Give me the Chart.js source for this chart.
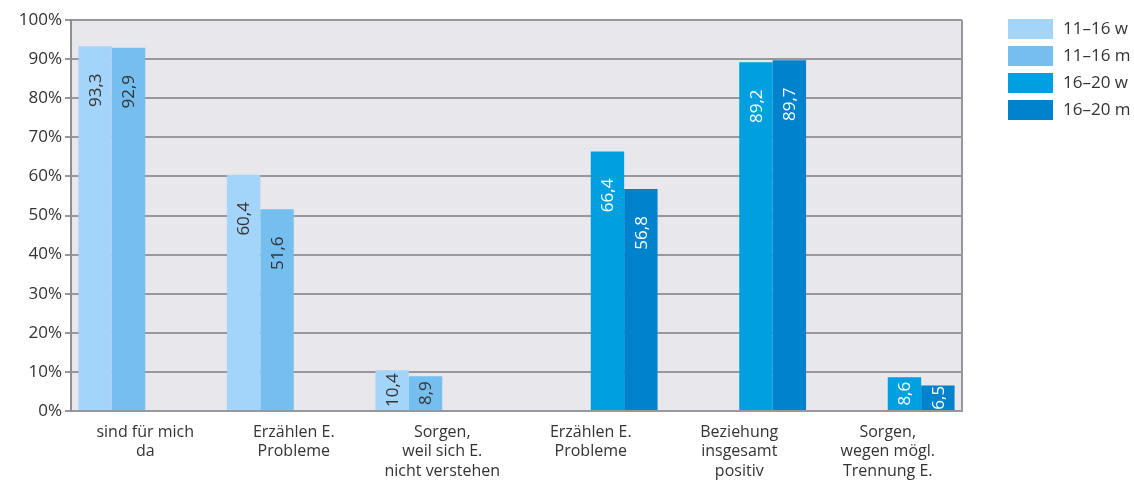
<!DOCTYPE html>
<html><head><meta charset="utf-8">
<script src="https://cdn.jsdelivr.net/npm/chart.js@4/dist/chart.umd.min.js"></script>
<style>html,body{margin:0;padding:0;background:#fff}#wrap{width:1134px;height:483px}</style>
</head><body><div id="wrap"><canvas id="c" width="1134" height="483"></canvas></div>
<script>
const categories = [["sind für mich","da"],["Erzählen E.","Probleme"],["Sorgen,","weil sich E.","nicht verstehen"],["Erzählen E.","Probleme"],["Beziehung","insgesamt","positiv"],["Sorgen,","wegen mögl.","Trennung E."]];
const seriesNames = ["11–16 w","11–16 m","16–20 w","16–20 m"];
const s1116w = [93.3, 60.4, 10.4, null, null, null];
const s1116m = [92.9, 51.6, 8.9, null, null, null];
const s1620w = [null, null, null, 66.4, 89.2, 8.6];
const s1620m = [null, null, null, 56.8, 89.7, 6.5];
const yTicks = [0,10,20,30,40,50,60,70,80,90,100];

const colors = ["#a3d4f9","#74bff0","#009fe0","#0082cc"];
const labelColors = ["#333","#333","#fff","#fff"];
const FONT = "'Open Sans', sans-serif";

const bgPlugin = {
  id:'bg',
  beforeDraw(chart){
    const {ctx, chartArea:a} = chart;
    ctx.save(); ctx.fillStyle = "#e8e7ec";
    ctx.fillRect(a.left, a.top, a.right-a.left, a.bottom-a.top); ctx.restore();
  },
  afterDatasetsDraw(chart){
    const {ctx, chartArea:a} = chart;
    ctx.save();
    ctx.strokeStyle = "#98979c"; ctx.lineWidth = 2;
    ctx.beginPath(); ctx.moveTo(a.right, a.top); ctx.lineTo(a.right, a.bottom); ctx.stroke();
    chart.data.datasets.forEach((ds, di) => {
      const meta = chart.getDatasetMeta(di);
      meta.data.forEach((bar, i) => {
        const v = ds.data[i];
        if (v == null) return;
        const top = bar.y, bottom = bar.base;
        const cy = Math.min(top + 44, (top + bottom) / 2);
        ctx.save();
        ctx.translate(bar.x, cy);
        ctx.rotate(-Math.PI/2);
        ctx.fillStyle = labelColors[di];
        ctx.font = "17px " + FONT;
        ctx.textAlign = "center"; ctx.textBaseline = "middle";
        ctx.fillText(v.toFixed(1).replace('.', ','), 0, 1);
        ctx.restore();
      });
    });
    ctx.font = "17px " + FONT; ctx.textBaseline = "middle"; ctx.textAlign = "left";
    seriesNames.forEach((n, k) => {
      const y = 19 + k*27;
      ctx.fillStyle = colors[k];
      ctx.fillRect(1008, y, 45, 20);
      ctx.fillStyle = "#333";
      ctx.fillText(n, 1063, y + 10);
    });
    ctx.restore();
  }
};

const mk = (i, d) => ({label: seriesNames[i], data: d, backgroundColor: colors[i], borderWidth: 0,
  categoryPercentage: 0.9, barPercentage: 1.0});

new Chart(document.getElementById('c'), {
  type: 'bar',
  data: { labels: categories, datasets: [mk(0,s1116w), mk(1,s1116m), mk(2,s1620w), mk(3,s1620m)] },
  options: {
    responsive: false, animation: false, devicePixelRatio: 1,
    layout: { padding: { left: 0, right: 172, top: 20, bottom: 0 } },
    plugins: { legend: { display: false }, tooltip: { enabled: false } },
    scales: {
      x: {
        grid: { display: false, drawTicks: false },
        border: { display: true, color: "#98979c", width: 2 },
        ticks: { color: "#333", font: { family: FONT, size: 16, lineHeight: 1.2 }, padding: 12, maxRotation: 0, autoSkip: false },
        afterFit(s){ s.height = 72; }
      },
      y: {
        min: 0, max: 100,
        afterBuildTicks(s){ s.ticks = yTicks.map(v => ({value: v})); },
        grid: { color: "#98979c", lineWidth: 2, tickLength: 6, drawTicks: true },
        border: { display: true, color: "#8e8d92", width: 2 },
        ticks: { color: "#333", font: { family: FONT, size: 17 }, padding: 3, callback: v => v + "%" },
        afterFit(s){ s.width = 71; }
      }
    }
  },
  plugins: [bgPlugin]
});
</script></body></html>
